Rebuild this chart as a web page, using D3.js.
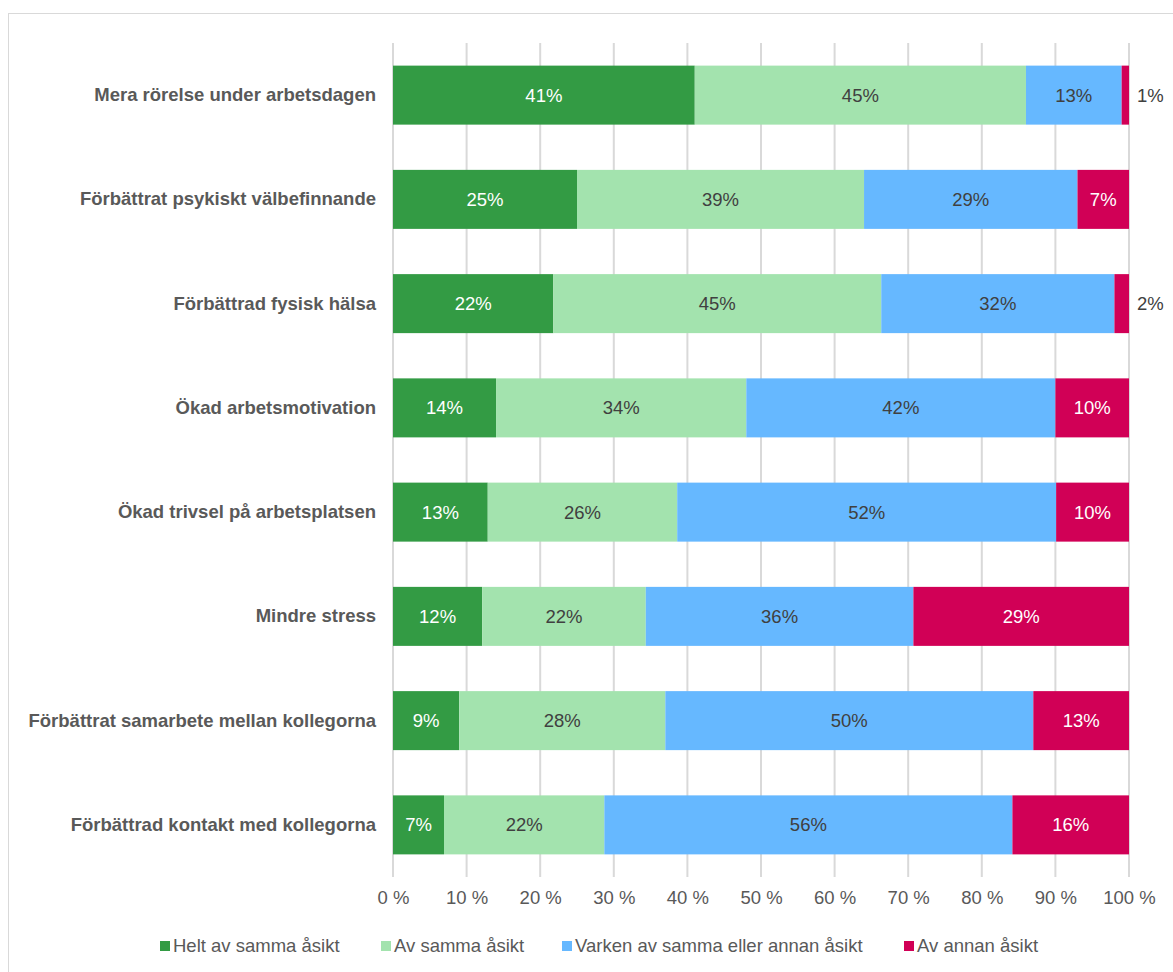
<!DOCTYPE html>
<html>
<head>
<meta charset="utf-8">
<script src="https://cdn.jsdelivr.net/npm/d3@7"></script>
<style>
  html, body { margin: 0; padding: 0; background: #fff; }
  svg { display: block; font-family: "Liberation Sans", Arial, sans-serif; }
</style>
</head>
<body>
<svg id="chart" width="1173" height="972"></svg>
<script>
// Survey statements (top to bottom)
const categories = [
  "Mera rörelse under arbetsdagen",
  "Förbättrat psykiskt välbefinnande",
  "Förbättrad fysisk hälsa",
  "Ökad arbetsmotivation",
  "Ökad trivsel på arbetsplatsen",
  "Mindre stress",
  "Förbättrat samarbete mellan kollegorna",
  "Förbättrad kontakt med kollegorna"
];

// Response options
const seriesNames = [
  "Helt av samma åsikt",
  "Av samma åsikt",
  "Varken av samma eller annan åsikt",
  "Av annan åsikt"
];

// Share of answers (%) per response option, one entry per statement
const heltAvSamma   = [41, 25, 22, 14, 13, 12,  9,  7];
const avSamma       = [45, 39, 45, 34, 26, 22, 28, 22];
const varken        = [13, 29, 32, 42, 52, 36, 50, 56];
const avAnnan       = [ 1,  7,  2, 10, 10, 29, 13, 16];

const tickValues = [0, 10, 20, 30, 40, 50, 60, 70, 80, 90, 100];

const colors = ["#339b44", "#a3e3ae", "#66b8ff", "#d10056"];
const labelColors = ["#ffffff", "#404040", "#404040", "#ffffff"];

const seriesValues = [heltAvSamma, avSamma, varken, avAnnan];

const FONT = 18.5;

// Rows for the 100 % stack
const rows = categories.map((c, i) => {
  const r = { category: c };
  seriesNames.forEach((s, k) => { r[s] = seriesValues[k][i]; });
  return r;
});

const stack = d3.stack()
  .keys(seriesNames)
  .offset(d3.stackOffsetExpand);
const layers = stack(rows);

const svg = d3.select("#chart");

// Outer chart frame
svg.append("rect")
  .attr("x", 8.5).attr("y", 13.5)
  .attr("width", 1300).attr("height", 1100)
  .attr("fill", "none")
  .attr("stroke", "#d9d9d9")
  .attr("stroke-width", 1);

const plotLeft = 393, plotRight = 1129, plotTop = 43, plotBottom = 877;

const x = d3.scaleLinear().domain([0, 1]).range([plotLeft, plotRight]);
const y = d3.scaleBand().domain(categories).range([plotTop, plotBottom])
  .paddingInner(0.434).paddingOuter(0.217);

// Vertical gridlines
svg.append("g")
  .selectAll("line")
  .data(tickValues)
  .join("line")
  .attr("x1", d => x(d / 100)).attr("x2", d => x(d / 100))
  .attr("y1", plotTop).attr("y2", plotBottom)
  .attr("stroke", "#d9d9d9")
  .attr("stroke-width", 2);

// X axis tick labels
const xAxis = d3.axisBottom(x)
  .tickValues(tickValues.map(d => d / 100))
  .tickFormat(d => Math.round(d * 100) + " %")
  .tickSize(0)
  .tickPadding(0);

const gx = svg.append("g")
  .attr("transform", `translate(0, ${plotBottom + 14})`)
  .call(xAxis);
gx.select(".domain").remove();
gx.selectAll("text")
  .attr("fill", "#595959")
  .attr("font-size", FONT)
  .attr("font-family", "Liberation Sans, Arial, sans-serif");

// Category axis labels
const yAxis = d3.axisLeft(y).tickSize(0).tickPadding(17);
const gy = svg.append("g")
  .attr("transform", `translate(${plotLeft}, 0)`)
  .call(yAxis);
gy.select(".domain").remove();
gy.selectAll("text")
  .attr("fill", "#595959")
  .attr("font-size", FONT)
  .attr("font-weight", "bold")
  .attr("font-family", "Liberation Sans, Arial, sans-serif");

// Bars
const gLayers = svg.append("g")
  .selectAll("g")
  .data(layers)
  .join("g")
  .attr("fill", (d, i) => colors[i]);

gLayers.selectAll("rect")
  .data(d => d)
  .join("rect")
  .attr("x", d => x(d[0]))
  .attr("width", d => x(d[1]) - x(d[0]))
  .attr("y", d => y(d.data.category))
  .attr("height", y.bandwidth());

// Value labels
layers.forEach((layer, k) => {
  svg.append("g")
    .selectAll("text")
    .data(layer)
    .join("text")
    .each(function(d) {
      const w = x(d[1]) - x(d[0]);
      const val = d.data[layer.key];
      const t = d3.select(this)
        .attr("y", y(d.data.category) + y.bandwidth() / 2)
        .attr("dy", "0.35em")
        .attr("font-size", FONT)
        .text(val + "%");
      if (w < 20) {
        t.attr("x", x(d[1]) + 8)
          .attr("text-anchor", "start")
          .attr("fill", "#404040");
      } else {
        t.attr("x", (x(d[0]) + x(d[1])) / 2)
          .attr("text-anchor", "middle")
          .attr("fill", labelColors[k]);
      }
    });
});

// Legend
const legendX = [160, 381, 562, 904];
const legend = svg.append("g")
  .selectAll("g")
  .data(seriesNames)
  .join("g")
  .attr("transform", (d, i) => `translate(${legendX[i]}, 946)`);
legend.append("rect")
  .attr("x", 0).attr("y", -5)
  .attr("width", 10).attr("height", 10)
  .attr("fill", (d, i) => colors[i]);
legend.append("text")
  .attr("x", 13)
  .attr("dy", "0.35em")
  .attr("font-size", FONT)
  .attr("fill", "#595959")
  .text(d => d);
</script>
</body>
</html>
